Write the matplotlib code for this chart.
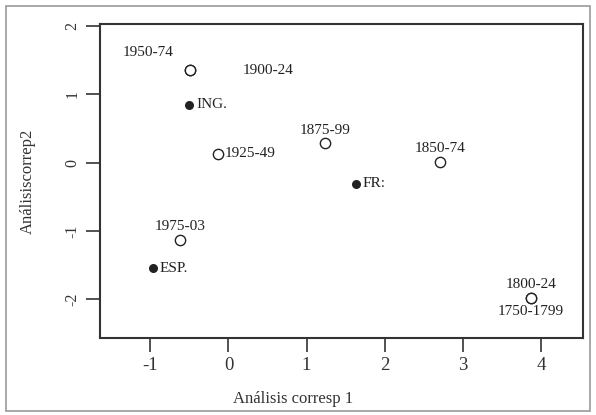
import numpy as np
import matplotlib.pyplot as plt
from matplotlib.patches import Rectangle

plt.rcParams['font.family'] = ['Liberation Serif', 'DejaVu Serif']
plt.rcParams['axes.unicode_minus'] = False

# Periodos (circulos abiertos)
periodos = ['1950-74', '1900-24', '1925-49', '1875-99', '1850-74', '1800-24', '1750-1799', '1975-03']
per_x = [-0.49, -0.49, -0.14, 1.24, 2.71, 3.87, 3.87, -0.62]
per_y = [1.35, 1.35, 0.13, 0.28, 0.01, -1.98, -1.98, -1.14]

# Paises (circulos rellenos)
paises = ['ING.', 'FR:', 'ESP.']
pais_x = [-0.50, 1.63, -0.97]
pais_y = [0.85, -0.31, -1.55]

# desplazamiento de etiquetas en puntos (dx, dy, ha, va)
offsets_per = [(-12, 8, 'right', 'bottom'), (38, 0, 'left', 'center'), (5, 0, 'left', 'center'),
               (0, 5, 'center', 'bottom'), (0, 5, 'center', 'bottom'), (0, 5, 'center', 'bottom'),
               (0, -5, 'center', 'top'), (0, 5, 'center', 'bottom')]

fig = plt.figure(figsize=(5.96, 4.15), dpi=100)
ax = fig.add_axes([100/596, 1 - 338/415, 483/596, 314/415])

ax.scatter(per_x, per_y, s=55, facecolors='white', edgecolors='#222222', linewidths=1.0, zorder=3)
ax.scatter(pais_x, pais_y, s=30, color='#222222', zorder=3)

for lab, x, y, (dx, dy, ha, va) in zip(periodos, per_x, per_y, offsets_per):
	ax.annotate(lab, (x, y), xytext=(dx, dy), textcoords='offset points',
				ha=ha, va=va, fontsize=11, color='#222222')
for lab, x, y in zip(paises, pais_x, pais_y):
	ax.annotate(lab, (x, y), xytext=(5, 0), textcoords='offset points',
				ha='left', va='center', fontsize=11, color='#222222')

ax.set_xlim(-1.645, 4.54)
ax.set_ylim(-2.57, 2.03)
ax.set_xticks([-1, 0, 1, 2, 3, 4])
ax.set_yticks([-2, -1, 0, 1, 2])
ax.tick_params(axis='x', length=10, width=1.2, labelsize=13.5, pad=4, colors='#333333')
ax.tick_params(axis='y', length=10, width=1.2, labelsize=11.5, pad=4, colors='#333333')
for t in ax.get_yticklabels():
	t.set_rotation(90)
	t.set_va('center')
for s in ax.spines.values():
	s.set_linewidth(1.5)
	s.set_color('#333333')

ax.set_xlabel('Análisis corresp 1', fontsize=12, color='#333333')
ax.xaxis.set_label_coords(0.40, -0.17)
ax.set_ylabel('Análisiscorrep2', fontsize=12, color='#333333')
ax.yaxis.set_label_coords(-0.132, 0.5)

# marco exterior
fig.patches.append(Rectangle((6/596, 4/415), 584/596, 405/415, transform=fig.transFigure,
							 fill=False, edgecolor='#999999', linewidth=1.2))

fig.savefig('out.png', dpi=100)
